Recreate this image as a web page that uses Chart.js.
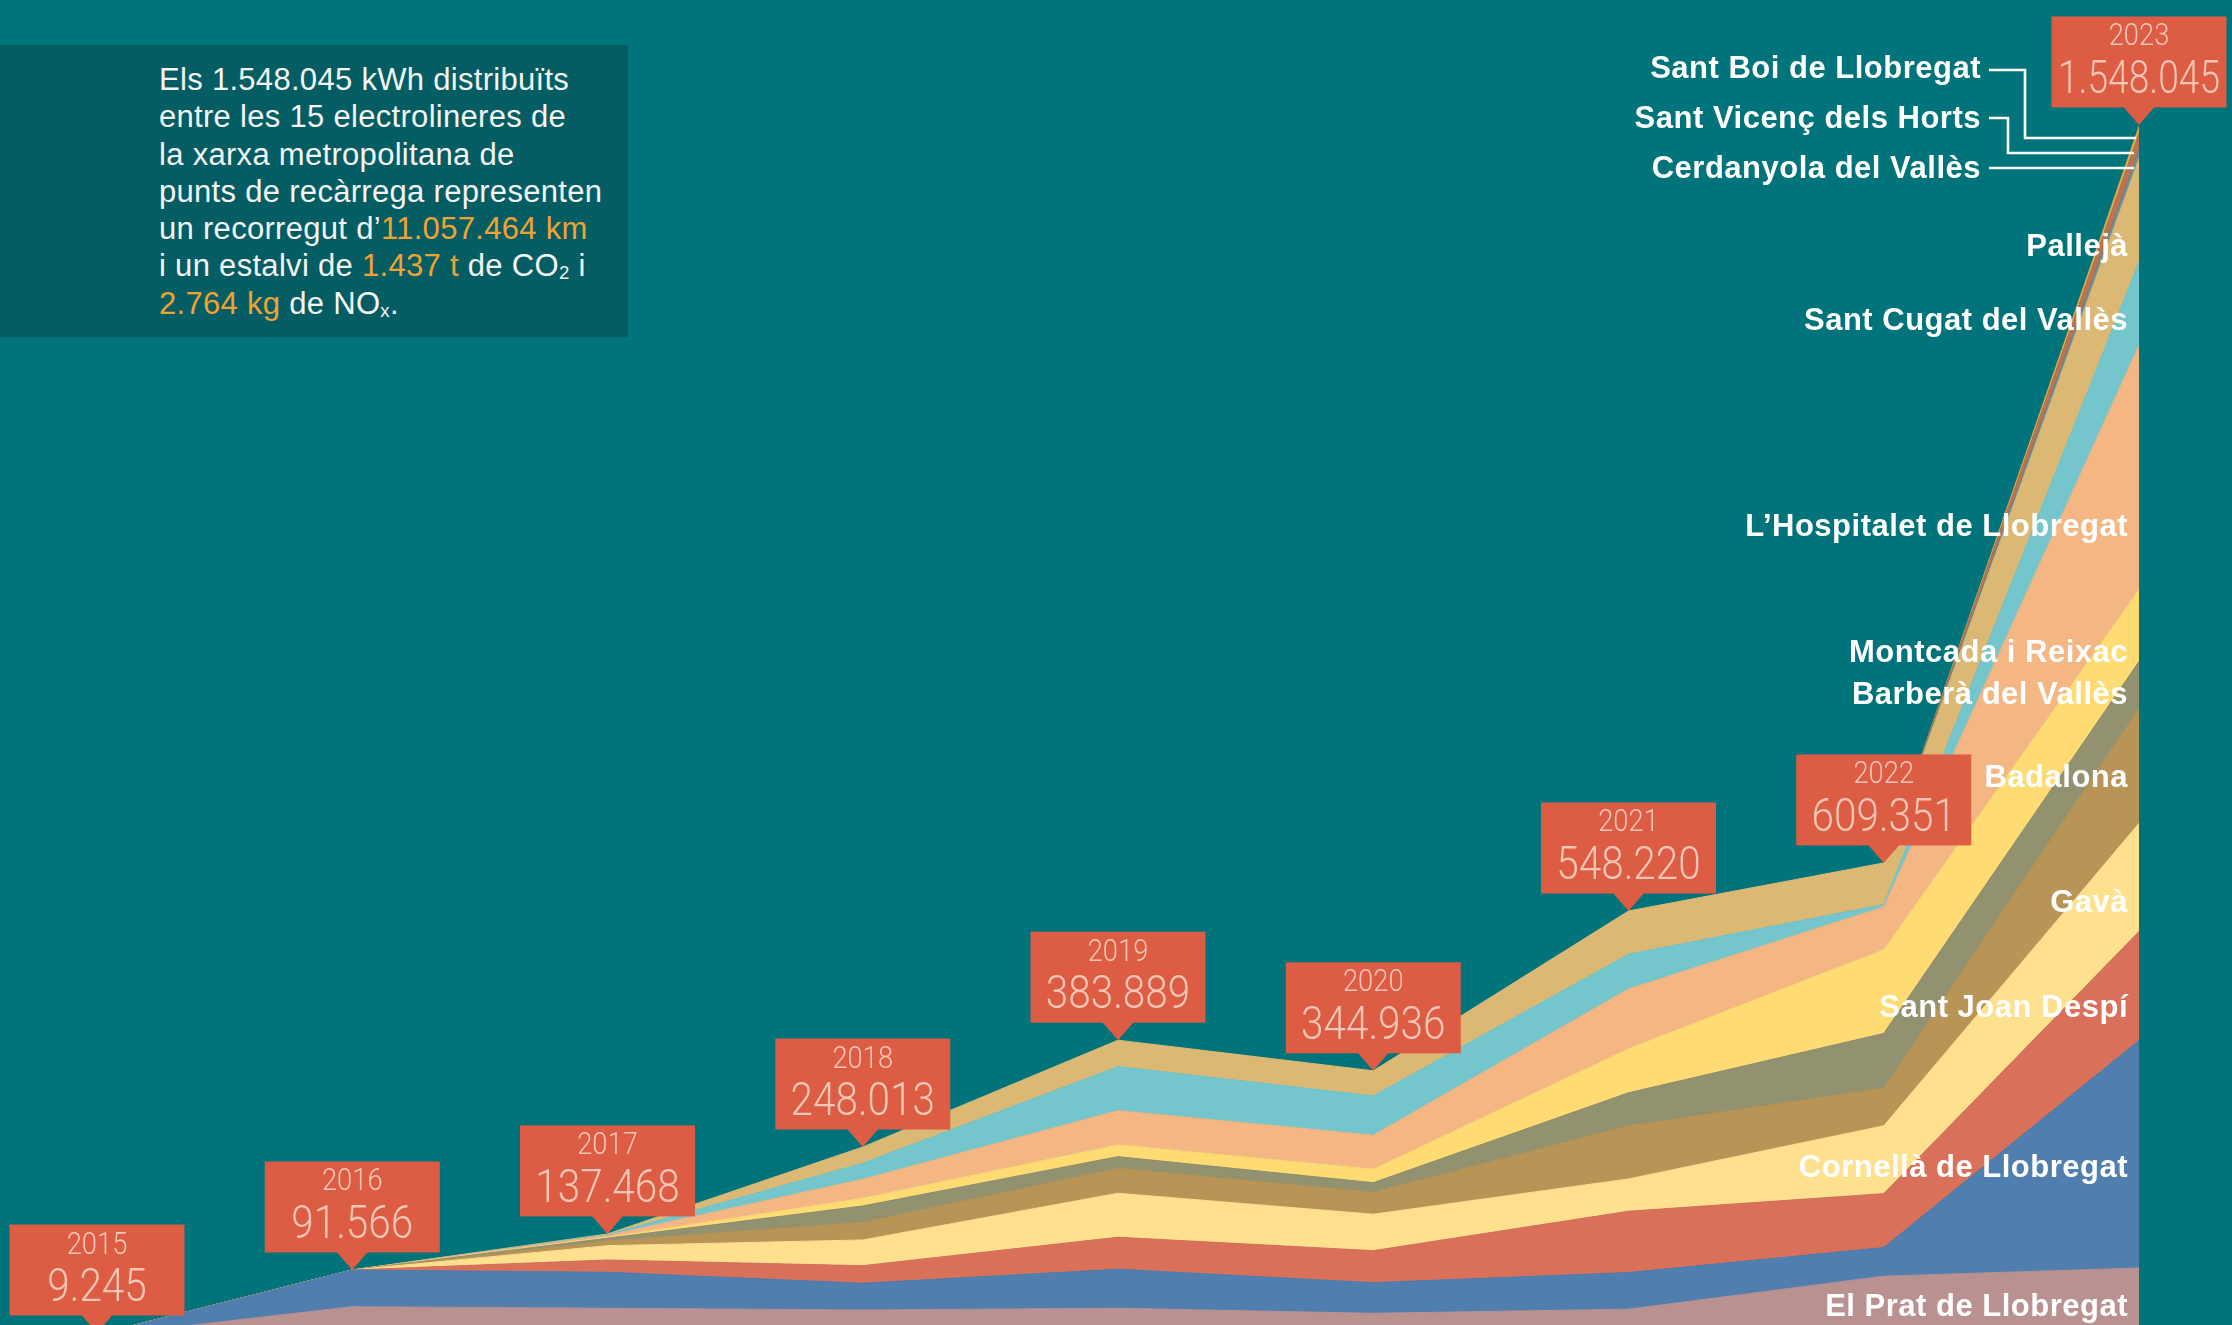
<!DOCTYPE html>
<html>
<head>
<meta charset="utf-8">
<title>Electrolineres AMB</title>
<script src="https://cdn.jsdelivr.net/npm/chart.js@4.4.1/dist/chart.umd.min.js"></script>
<style>
  html, body { margin: 0; padding: 0; background: #01737a; }
  #wrap { position: relative; width: 2232px; height: 1325px; overflow: hidden; background: #01737a; }
  #chart { position: absolute; left: 0; top: 0; }
  #info {
    position: absolute; left: 0; top: 45px; width: 628px; height: 292px;
    box-sizing: border-box; padding: 16px 0 0 159px;
    background: #035d63; color: #f5f5f5;
    font-family: "Liberation Sans", Arial, sans-serif; font-size: 31px;
    line-height: 37.3px; letter-spacing: 0.3px; white-space: nowrap;
  }
  #info .hl { color: #f0a233; }
  #info .sub { font-size: 0.6em; line-height: 0; vertical-align: -0.15em; }
</style>
</head>
<body>
<div id="wrap">
  <canvas id="chart" width="2232" height="1325"></canvas>
  <div id="info">
    Els 1.548.045 kWh distribuïts<br>
    entre les 15 electrolineres de<br>
    la xarxa metropolitana de<br>
    punts de recàrrega representen<br>
    un recorregut d’<span class="hl">11.057.464 km</span><br>
    i un estalvi de <span class="hl">1.437 t</span> de CO<span class="sub">2</span> i<br>
    <span class="hl">2.764 kg</span> de NO<span class="sub">x</span>.
  </div>
</div>
<script>
// anys i totals (kWh)
const years = ['2015', '2016', '2017', '2018', '2019', '2020', '2021', '2022', '2023'];
const totals = [9245, 91566, 137468, 248013, 383889, 344936, 548220, 609351, 1548045];

// municipis, de baix a dalt de la pila
const municipalities = [
    'El Prat de Llobregat',
    'Cornellà de Llobregat',
    'Sant Joan Despí',
    'Gavà',
    'Badalona',
    'Barberà del Vallès',
    'Montcada i Reixac',
    'L’Hospitalet de Llobregat',
    'Sant Cugat del Vallès',
    'Pallejà',
    'Cerdanyola del Vallès',
    'Sant Vicenç dels Horts',
    'Sant Boi de Llobregat'
];

// kWh per municipi i any (llegits del gràfic)
const elPrat       = [7500, 44910, 42880, 40710, 42880, 36520, 41730, 83720, 94150];
const cornella     = [1745, 46656, 45800, 33970, 49620, 38930, 46570, 36390, 289450];
const santJoan     = [0, 0, 15650, 22390, 40710, 40710, 77990, 68580, 138550];
const gava         = [0, 0, 18190, 32700, 55980, 46310, 41100, 86260, 137540];
const badalona     = [0, 0, 6000, 22520, 31810, 27990, 67560, 48090, 146570];
const barbera      = [0, 0, 3500, 20740, 14760, 12210, 41990, 69470, 59290];
const montcada     = [0, 0, 1000, 9800, 14890, 17050, 55980, 106360, 91220];
const hospitalet   = [0, 0, 2500, 24170, 43640, 43260, 76080, 54580, 310835];
const santCugat    = [0, 0, 1000, 20360, 55980, 50000, 44280, 2930, 106110];
const palleja      = [0, 0, 948, 20653, 33619, 31956, 54940, 52971, 131430];
const cerdanyola   = [0, 0, 0, 0, 0, 0, 0, 0, 12100];
const santVicenc   = [0, 0, 0, 0, 0, 0, 0, 0, 20900];
const santBoi      = [0, 0, 0, 0, 0, 0, 0, 0, 9900];

const series = [elPrat, cornella, santJoan, gava, badalona, barbera, montcada,
    hospitalet, santCugat, palleja, cerdanyola, santVicenc, santBoi];

const colors = ['#b99190', '#4f7eaf', '#d9705a', '#fee08f', '#b89456', '#929170', '#ffdb74',
    '#f4b683', '#75c6cc', '#dbb975', '#6f8f96', '#c0714f', '#e0a848'];

// posició de les etiquetes (px): y del centre, x del marge dret
const labelPos = [
    [1305, 2128], [1166, 2128], [1006, 2128], [901, 2128], [776, 2128], [693, 2128],
    [651, 2128], [525, 2128], [319, 2128], [245, 2128], [167, 1981], [117, 1981], [67, 1981]
];
// línies guia per a les tres etiquetes petites
const leaders = [
    null, null, null, null, null, null, null, null, null, null,
    [[1989, 168], [2134, 168]],
    [[1989, 118], [2008, 118], [2008, 153], [2134, 153]],
    [[1989, 70], [2025, 70], [2025, 138], [2136, 138]]
];

function formatKwh(v) {
    return String(v).replace(/\B(?=(\d{3})+(?!\d))/g, '.');
}

const annotations = {
    id: 'annotations',
    afterDatasetsDraw(chart) {
        const { ctx, chartArea, scales: { x, y } } = chart;

        // etiquetes de municipi
        ctx.save();
        ctx.fillStyle = '#ffffff';
        ctx.strokeStyle = '#ffffff';
        ctx.lineWidth = 2.6;
        ctx.font = 'bold 31px "Liberation Sans", Arial, sans-serif';
        ctx.letterSpacing = '0.5px';
        ctx.textAlign = 'right';
        ctx.textBaseline = 'alphabetic';
        municipalities.forEach((name, i) => {
            const [cy, rx] = labelPos[i];
            ctx.fillText(name, rx, cy + 11);
            const pts = leaders[i];
            if (pts) {
                ctx.beginPath();
                ctx.moveTo(pts[0][0], pts[0][1]);
                pts.slice(1).forEach(p => ctx.lineTo(p[0], p[1]));
                ctx.stroke();
            }
        });
        ctx.restore();

        // caixes amb l'any i el total
        years.forEach((yr, i) => {
            const sum = series.reduce((s, d) => s + d[i], 0);
            const px = x.getPixelForValue(i);
            const py = Math.min(y.getPixelForValue(sum), chartArea.bottom + 8);
            const w = 175, h = 91, tri = 17.5;
            const bottom = py - tri, top = bottom - h;

            ctx.save();
            ctx.fillStyle = '#dd5c44';
            ctx.fillRect(px - w / 2, top, w, h);
            ctx.beginPath();
            ctx.moveTo(px - 16, bottom - 1);
            ctx.lineTo(px + 16, bottom - 1);
            ctx.lineTo(px, py);
            ctx.closePath();
            ctx.fill();

            ctx.fillStyle = '#f7c6b6';
            ctx.textAlign = 'center';
            ctx.textBaseline = 'alphabetic';
            ctx.translate(px, 0);
            ctx.scale(0.88, 1);
            ctx.font = '300 31px Roboto, "Liberation Sans", sans-serif';
            ctx.fillText(yr, 0, top + 29);
            ctx.font = '300 46px Roboto, "Liberation Sans", sans-serif';
            ctx.fillText(formatKwh(totals[i]), 0, top + 76.5, 162 / 0.88);
            ctx.restore();
        });
    }
};

new Chart(document.getElementById('chart'), {
    type: 'line',
    data: {
        labels: years,
        datasets: municipalities.map((name, i) => ({
            label: name,
            data: series[i],
            backgroundColor: colors[i],
            borderColor: colors[i],
            borderWidth: i < 10 ? 1 : 0,
            fill: i === 0 ? 'origin' : '-1',
            pointRadius: 0,
            pointHoverRadius: 0,
            tension: 0
        }))
    },
    options: {
        responsive: false,
        animation: false,
        devicePixelRatio: 1,
        layout: { padding: { left: 97, right: 93, top: 0, bottom: 0 } },
        scales: {
            x: { display: false, offset: false },
            y: { display: false, stacked: true, min: 21600, max: 1707000 }
        },
        plugins: {
            legend: { display: false },
            tooltip: { enabled: false }
        }
    },
    plugins: [annotations]
});
</script>
</body>
</html>
